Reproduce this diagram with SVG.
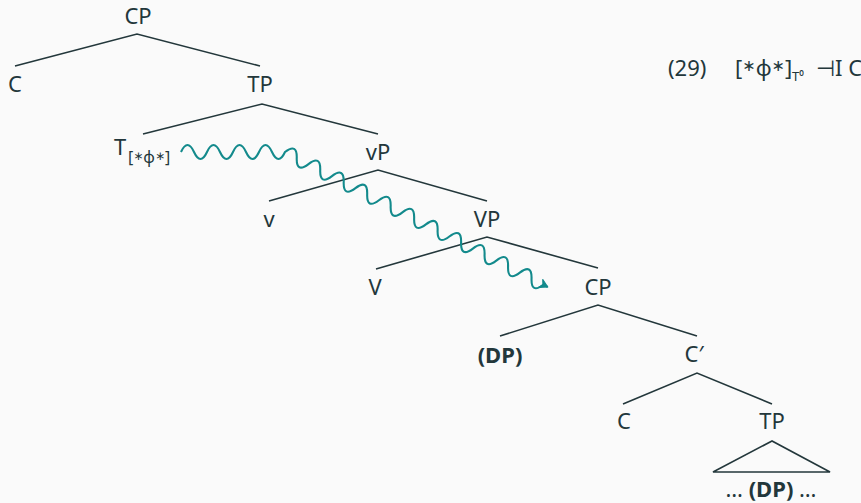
<svg xmlns="http://www.w3.org/2000/svg" width="861" height="503" viewBox="0 0 861 503">
<defs>
<style>
.t{font-family:"Noto Sans","Open Sans",sans-serif;font-size:22px;fill:#23373b;text-anchor:middle}
.l{text-anchor:start}
.s{font-size:16px}
.b{font-weight:bold}
.a{font-family:"DejaVu Sans",sans-serif}
.e{stroke:#23373b;stroke-width:1.6;fill:none}
.w{stroke:#138a8c;stroke-width:2.1;fill:none}
</style>
<marker id="ah" markerUnits="userSpaceOnUse" markerWidth="16" markerHeight="16" viewBox="-10 -8 14 16" refX="0" refY="0" orient="auto">
<path d="M-8,-4.5 L0,0 L-8,4.5 L-5.5,0 Z" fill="#138a8c" stroke="#138a8c" stroke-width="1" stroke-linejoin="round"/>
</marker>
</defs>
<rect width="861" height="503" fill="#fafafa"/>
<g id="connectors">
<path class="e" d="M15,66 L137,34 L260,66"/>
<path class="e" d="M143,134 L262,104 L378,134"/>
<path class="e" d="M269,201 L378,170 L487,201"/>
<path class="e" d="M376,269 L487,237 L598,268"/>
<path class="e" d="M500,336 L598,305 L697,336"/>
<path class="e" d="M623,404 L697,373 L772,404"/>
<path class="e" d="M772,441 L713,472 L830,472 Z"/>
<path class="w" marker-end="url(#ah)" d="M181,152 c4.3,-9.3 8.7,-9.3 13,0 s8.7,9.3 13,0 s8.7,-9.3 13,0 s8.7,9.3 13,0 s8.7,-9.3 13,0 s8.7,9.3 13,0 s8.7,-9.3 13,0 s8.7,9.3 13,0 c8.164,-6.26 12.078,-4.249 11.74,6.034 s3.576,12.293 11.74,6.034 s12.078,-4.249 11.74,6.034 s3.576,12.293 11.74,6.034 s12.078,-4.249 11.74,6.034 s3.576,12.293 11.74,6.034 s12.078,-4.249 11.74,6.034 s3.576,12.293 11.74,6.034 s12.078,-4.249 11.74,6.034 s3.576,12.293 11.74,6.034 s12.078,-4.249 11.74,6.034 s3.576,12.293 11.74,6.034 s12.078,-4.249 11.74,6.034 s3.576,12.293 11.74,6.034 s12.078,-4.249 11.74,6.034 s3.576,12.293 11.74,6.034 s12.078,-4.249 11.74,6.034 s3.576,12.293 11.74,6.034 s12.078,-4.249 11.74,6.034 s3.576,12.293 11.74,6.034 s12.078,-4.249 11.74,6.034 s3.576,12.293 11.74,6.034 l4.5,2.3"/>
</g>
<g id="n-cp1"><text class="t" x="138" y="24">CP</text></g>
<g id="n-c1"><text class="t" x="15" y="92">C</text></g>
<g id="n-tp1"><text class="t" x="260" y="92">TP</text></g>
<g id="n-t"><text class="t l" x="114" y="155">T</text><text class="t s l" x="128" y="163">[<tspan class="a" style="font-size:12px" dy="-3">∗</tspan><tspan dy="3">ϕ</tspan><tspan class="a" style="font-size:12px" dy="-3">∗</tspan><tspan dy="3">]</tspan></text></g>
<g id="n-vp"><text class="t" x="378" y="160">vP</text></g>
<g id="n-v"><text class="t" x="269" y="227">v</text></g>
<g id="n-VP"><text class="t" x="487" y="227">VP</text></g>
<g id="n-V"><text class="t" x="375" y="295">V</text></g>
<g id="n-cp2"><text class="t" x="598" y="295">CP</text></g>
<g id="n-dp"><text class="t b" x="500" y="363">(DP)</text></g>
<g id="n-cbar"><text class="t" x="694" y="362">C′</text></g>
<g id="n-c2"><text class="t" x="624" y="429">C</text></g>
<g id="n-tp2"><text class="t" x="772" y="429">TP</text></g>
<g id="n-dp2"><text class="t" x="771" y="497">… <tspan class="b">(DP)</tspan> …</text></g>
<g id="ex29">
<text class="t l" x="668" y="76">(29)</text>
<text class="t l" x="735" y="76">[<tspan class="a" style="font-size:16px" dy="-5">∗</tspan><tspan dy="5">ϕ</tspan><tspan class="a" style="font-size:16px" dy="-5">∗</tspan><tspan dy="5">]</tspan></text>
<text class="t l" x="792" y="81" style="font-size:13px">T⁰</text>
<text class="t l" x="816" y="76">⊣I C</text>
</g>
</svg>
